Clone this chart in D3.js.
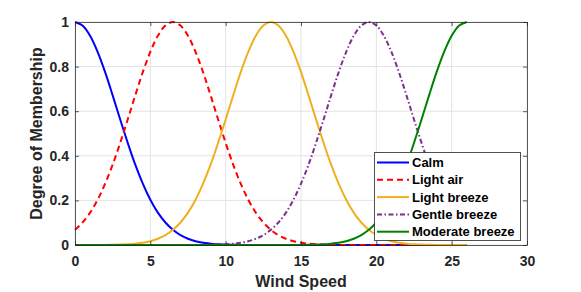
<!DOCTYPE html>
<html><head><meta charset="utf-8">
<script src="https://cdn.jsdelivr.net/npm/d3@7"></script>
<style>
html,body{margin:0;padding:0;background:#fff;}
svg{display:block;font-family:"Liberation Sans",Arial,Helvetica,sans-serif;font-weight:bold;}
</style></head>
<body>
<svg id="chart" width="581" height="292"></svg>
<script>
// x samples (wind speed) 0..26 step 0.5
const windSpeed = d3.range(0, 26.01, 0.5);
const calm = [1,.984,.938,.866,.775,.671,.563,.458,.360,.275,.203,.145,.101,.068,.044,.028,.017,.010,.006,.003,.002,.001,
  0,0,0,0,0,0,0,0,0,0,0,0,0,0,0,0,0,0,0,0,0,0,0,0,0,0,0,0,0,0,0];
const lightAir = [.068,.101,.145,.203,.275,.360,.458,.563,.671,.775,.866,.938,.984,1,.984,.938,.866,.775,.671,.563,.458,.360,.275,.203,.145,.101,.068,.044,.028,.017,.010,.006,.003,.002,.001,
  0,0,0,0,0,0,0,0,0,0,0,0,0,0,0,0,0,0];
const lightBreeze = [0,0,0,0,0,.001,.002,.003,.006,.010,.017,.028,.044,.068,.101,.145,.203,.275,.360,.458,.563,.671,.775,.866,.938,.984,1,
  .984,.938,.866,.775,.671,.563,.458,.360,.275,.203,.145,.101,.068,.044,.028,.017,.010,.006,.003,.002,.001,0,0,0,0,0];
const gentleBreeze = [0,0,0,0,0,0,0,0,0,0,0,0,0,0,0,0,0,0,
  .001,.002,.003,.006,.010,.017,.028,.044,.068,.101,.145,.203,.275,.360,.458,.563,.671,.775,.866,.938,.984,1,
  .984,.938,.866,.775,.671,.563,.458,.360,.275,.203,.145,.101,.068];
const moderateBreeze = [0,0,0,0,0,0,0,0,0,0,0,0,0,0,0,0,0,0,0,0,0,0,0,0,0,0,0,0,0,0,0,
  .001,.002,.003,.006,.010,.017,.028,.044,.068,.101,.145,.203,.275,.360,.458,.563,.671,.775,.866,.938,.984,1];
const seriesNames = ["Calm","Light air","Light breeze","Gentle breeze","Moderate breeze"];
const seriesColors = ["#0000ff","#ff0000","#edb120","#7e2f8e","#008000"];
const seriesDash = [null,"6,4",null,"5,2.5,1.5,2.5",null];
const xTicks = [0,5,10,15,20,25,30];
const yTicks = [0,0.2,0.4,0.6,0.8,1];
const seriesValues = [calm, lightAir, lightBreeze, gentleBreeze, moderateBreeze];

const svg = d3.select("#chart");
const L = 75, R = 527, T = 22, B = 245;
const x = d3.scaleLinear().domain([0,30]).range([L,R]);
const y = d3.scaleLinear().domain([0,1]).range([B,T]);
const axisCol = "#262626";

// grid
const g = svg.append("g");
g.selectAll(".vg").data(xTicks).join("line")
  .attr("x1", d=>x(d)).attr("x2", d=>x(d)).attr("y1", T).attr("y2", B)
  .attr("stroke", "#e3e3e3").attr("stroke-width", 1);
g.selectAll(".hg").data(yTicks).join("line")
  .attr("y1", d=>y(d)).attr("y2", d=>y(d)).attr("x1", L).attr("x2", R)
  .attr("stroke", "#e3e3e3").attr("stroke-width", 1);

// lines
const line = d3.line().x((d,i)=>x(windSpeed[i])).y(d=>y(d)).curve(d3.curveCatmullRom);
seriesValues.forEach((vals, k) => {
  svg.append("path").datum(vals)
    .attr("d", line).attr("fill","none")
    .attr("stroke", seriesColors[k]).attr("stroke-width", 2)
    .attr("stroke-dasharray", seriesDash[k]);
});

// axes
const xAxis = d3.axisBottom(x).tickValues(xTicks).tickSizeInner(-4).tickSizeOuter(0).tickPadding(11).tickFormat(d3.format("d"));
const yAxis = d3.axisLeft(y).tickValues(yTicks).tickSizeInner(-4).tickSizeOuter(0).tickPadding(6).tickFormat(d=>d===0?"0":d===1?"1":d3.format(".1f")(d));
const gx = svg.append("g").attr("transform",`translate(0,${B})`).call(xAxis);
const gy = svg.append("g").attr("transform",`translate(${L},0)`).call(yAxis);
const gx2 = svg.append("g").attr("transform",`translate(0,${T})`).call(d3.axisTop(x).tickValues(xTicks).tickSizeInner(-4).tickSizeOuter(0).tickFormat(""));
const gy2 = svg.append("g").attr("transform",`translate(${R},0)`).call(d3.axisRight(y).tickValues(yTicks).tickSizeInner(-4).tickSizeOuter(0).tickFormat(""));
[gx,gy,gx2,gy2].forEach(a=>{
  a.select(".domain").attr("stroke", axisCol).attr("stroke-opacity",0.75);
  a.selectAll(".tick line").attr("stroke", axisCol).attr("stroke-opacity",0.75);
  a.selectAll("text").attr("fill", axisCol).attr("font-size", 14).attr("font-weight","bold")
   .attr("font-family",'"Liberation Sans",Arial,sans-serif');
});

// axis labels
svg.append("text").attr("x", (L+R)/2).attr("y", 286.5).attr("text-anchor","middle")
  .attr("font-size", 16).attr("fill", axisCol).text("Wind Speed");
svg.append("text").attr("transform", `translate(41.5,${(T+B)/2}) rotate(-90)`).attr("text-anchor","middle")
  .attr("font-size", 16).attr("fill", axisCol).text("Degree of Membership");

// legend
const lg = svg.append("g");
lg.append("rect").attr("x", 374.5).attr("y", 152.5).attr("width", 146).attr("height", 88)
  .attr("fill","#fff").attr("stroke", axisCol).attr("stroke-opacity",0.8).attr("stroke-width",1);
seriesNames.forEach((name,k)=>{
  const yy = 162.5 + k*17.3;
  lg.append("line").attr("x1",377).attr("x2",409).attr("y1",yy).attr("y2",yy)
    .attr("stroke", seriesColors[k]).attr("stroke-width",2).attr("stroke-dasharray", seriesDash[k]);
  lg.append("text").attr("x",412).attr("y",yy+4.6).attr("font-size",13).attr("fill","#000").text(name);
});
</script>
</body></html>
